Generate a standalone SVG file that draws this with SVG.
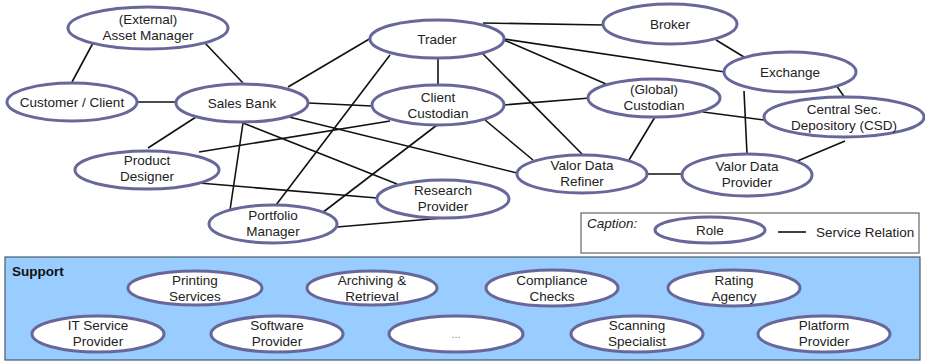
<svg xmlns="http://www.w3.org/2000/svg" width="925" height="362" viewBox="0 0 925 362">
  <style>
    .role ellipse { fill: #ffffff; stroke: #67679a; stroke-width: 3; }
    .role text, .lbl { font-family: "Liberation Sans", Arial, sans-serif; font-size: 13.5px; fill: #222222; text-anchor: middle; }
    .links line { stroke: #111111; stroke-width: 1.6; }
  </style>
  <rect width="925" height="362" fill="#ffffff"/>

  <!-- support area -->
  <g id="support">
    <rect x="5" y="257" width="915" height="103" fill="#99ccff" stroke="#4a5a6a" stroke-width="1.2"/>
    <text x="12" y="276" font-family="Liberation Sans, Arial, sans-serif" font-size="13.5" font-weight="bold" fill="#111">Support</text>
  </g>

  <!-- caption box -->
  <g id="caption">
    <rect x="581" y="213" width="338" height="40" fill="#ffffff" stroke="#666666" stroke-width="1.2"/>
    <text x="587" y="228" font-family="Liberation Sans, Arial, sans-serif" font-size="13.5" font-style="italic" fill="#222">Caption:</text>
    <g class="role"><ellipse cx="710" cy="230" rx="55" ry="13"/><text x="710" y="235">Role</text></g>
    <line x1="778" y1="232" x2="806" y2="232" stroke="#111" stroke-width="1.6"/>
    <text x="816" y="237" font-family="Liberation Sans, Arial, sans-serif" font-size="13.5" fill="#222">Service Relation</text>
  </g>

  <!-- service relations -->
  <g class="links" id="connectors">
    <line x1="93" y1="43" x2="72" y2="82"/>
    <line x1="204" y1="42" x2="243" y2="83"/>
    <line x1="138" y1="102" x2="176" y2="102"/>
    <line x1="196" y1="117" x2="148" y2="148"/>
    <line x1="288" y1="87" x2="371" y2="38"/>
    <line x1="308" y1="103" x2="372" y2="106"/>
    <line x1="289" y1="117" x2="517" y2="173"/>
    <line x1="243" y1="123" x2="397" y2="184"/>
    <line x1="243" y1="123" x2="230" y2="210"/>
    <line x1="199" y1="152" x2="390" y2="121"/>
    <line x1="199" y1="183" x2="377" y2="198"/>
    <line x1="390" y1="55" x2="276" y2="205"/>
    <line x1="437" y1="125" x2="322" y2="213"/>
    <line x1="337" y1="227" x2="443" y2="218"/>
    <line x1="438" y1="58" x2="438" y2="85"/>
    <line x1="483" y1="23" x2="604" y2="25"/>
    <line x1="504" y1="39" x2="725" y2="72"/>
    <line x1="504" y1="40" x2="606" y2="84"/>
    <line x1="483" y1="54" x2="583" y2="155"/>
    <line x1="504" y1="105" x2="590" y2="98"/>
    <line x1="485" y1="120" x2="533" y2="160"/>
    <line x1="655" y1="117" x2="629" y2="160"/>
    <line x1="703" y1="112" x2="764" y2="120"/>
    <line x1="716" y1="40" x2="744" y2="57"/>
    <line x1="836" y1="85" x2="845" y2="98"/>
    <line x1="744" y1="91" x2="747" y2="154"/>
    <line x1="845" y1="141" x2="795" y2="162"/>
    <line x1="647" y1="174" x2="682" y2="174"/>
  </g>

  <!-- roles -->
  <g class="role" id="asset-manager"><ellipse cx="148" cy="28" rx="80" ry="21"/><text x="148" y="24">(External)</text><text x="148" y="40">Asset Manager</text></g>
  <g class="role" id="customer"><ellipse cx="72" cy="102" rx="65" ry="19"/><text x="72" y="107">Customer / Client</text></g>
  <g class="role" id="sales-bank"><ellipse cx="242" cy="103" rx="66" ry="19"/><text x="242" y="108">Sales Bank</text></g>
  <g class="role" id="product-designer"><ellipse cx="147" cy="170" rx="72" ry="19"/><text x="147" y="165">Product</text><text x="147" y="181">Designer</text></g>
  <g class="role" id="portfolio-manager"><ellipse cx="273" cy="224" rx="64" ry="19"/><text x="273" y="220">Portfolio</text><text x="273" y="236">Manager</text></g>
  <g class="role" id="trader"><ellipse cx="437" cy="39" rx="67" ry="19"/><text x="437" y="44">Trader</text></g>
  <g class="role" id="client-custodian"><ellipse cx="438" cy="105" rx="66" ry="20"/><text x="438" y="102">Client</text><text x="438" y="118">Custodian</text></g>
  <g class="role" id="research-provider"><ellipse cx="443" cy="199" rx="66" ry="19"/><text x="443" y="195">Research</text><text x="443" y="211">Provider</text></g>
  <g class="role" id="valor-data-refiner"><ellipse cx="582" cy="174" rx="65" ry="19"/><text x="582" y="170">Valor Data</text><text x="582" y="186">Refiner</text></g>
  <g class="role" id="broker"><ellipse cx="670" cy="24" rx="67" ry="20"/><text x="670" y="29">Broker</text></g>
  <g class="role" id="exchange"><ellipse cx="790" cy="72" rx="66" ry="20"/><text x="790" y="77">Exchange</text></g>
  <g class="role" id="global-custodian"><ellipse cx="654" cy="98" rx="66" ry="19"/><text x="654" y="94">(Global)</text><text x="654" y="110">Custodian</text></g>
  <g class="role" id="csd"><ellipse cx="844" cy="117" rx="80" ry="20"/><text x="844" y="114">Central Sec.</text><text x="844" y="130">Depository (CSD)</text></g>
  <g class="role" id="valor-data-provider"><ellipse cx="747" cy="175" rx="65" ry="21"/><text x="747" y="171">Valor Data</text><text x="747" y="187">Provider</text></g>

  <!-- support roles -->
  <g class="role" id="printing"><ellipse cx="195" cy="288" rx="67" ry="17"/><text x="195" y="285">Printing</text><text x="195" y="301">Services</text></g>
  <g class="role" id="archiving"><ellipse cx="372" cy="288" rx="65" ry="17"/><text x="372" y="285">Archiving &amp;</text><text x="372" y="301">Retrieval</text></g>
  <g class="role" id="compliance"><ellipse cx="552" cy="288" rx="66" ry="18"/><text x="552" y="285">Compliance</text><text x="552" y="301">Checks</text></g>
  <g class="role" id="rating"><ellipse cx="734" cy="288" rx="66" ry="18"/><text x="734" y="285">Rating</text><text x="734" y="301">Agency</text></g>
  <g class="role" id="it-service"><ellipse cx="98" cy="334" rx="66" ry="18"/><text x="98" y="330">IT Service</text><text x="98" y="346">Provider</text></g>
  <g class="role" id="software"><ellipse cx="277" cy="334" rx="66" ry="18"/><text x="277" y="330">Software</text><text x="277" y="346">Provider</text></g>
  <g class="role" id="more"><ellipse cx="456" cy="334" rx="67" ry="18"/><text x="456" y="338" style="font-size:11px;fill:#888">...</text></g>
  <g class="role" id="scanning"><ellipse cx="637" cy="334" rx="66" ry="18"/><text x="637" y="330">Scanning</text><text x="637" y="346">Specialist</text></g>
  <g class="role" id="platform"><ellipse cx="824" cy="334" rx="66" ry="18"/><text x="824" y="330">Platform</text><text x="824" y="346">Provider</text></g>
</svg>
